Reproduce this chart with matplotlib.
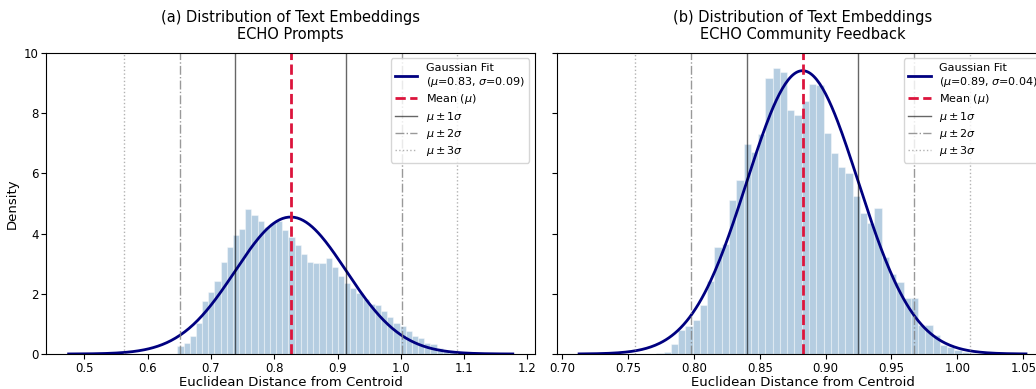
import numpy as np
import matplotlib
matplotlib.use('Agg')
import matplotlib.pyplot as plt

# 왼쪽: ECHO Prompts
mu_a, sigma_a = 0.826, 0.0877
start_a, width_a = 0.6470, 0.00975
dens_a = [0.25, 0.35, 0.61, 1.03, 1.77, 2.05, 2.44, 3.05, 3.57, 3.95,
          4.15, 4.80, 4.63, 4.41, 4.23, 4.35, 4.41, 4.13, 3.90, 3.63,
          3.33, 3.07, 3.01, 3.01, 3.20, 2.88, 2.59, 2.37, 2.18, 2.02,
          1.83, 1.66, 1.63, 1.43, 1.22, 1.02, 0.93, 0.77, 0.60, 0.52,
          0.38, 0.32, 0.20, 0.10, 0.05, 0.03]

# 오른쪽: ECHO Community Feedback
mu_b, sigma_b = 0.8825, 0.0424
start_b, width_b = 0.7715, 0.00552
dens_b = [0.03, 0.07, 0.32, 0.80, 0.93, 1.12, 1.64, 2.42, 3.56, 3.64,
          5.13, 5.77, 6.96, 6.72, 7.30, 9.17, 9.51, 9.38, 8.10, 7.93,
          8.40, 8.96, 8.92, 7.33, 6.68, 6.22, 6.00, 5.24, 4.67, 4.36,
          4.84, 3.23, 2.65, 2.38, 1.86, 1.86, 0.96, 0.96, 0.63, 0.30,
          0.24, 0.13, 0.05, 0.03]

titles = ['(a) Distribution of Text Embeddings\nECHO Prompts',
          '(b) Distribution of Text Embeddings\nECHO Community Feedback']
fit_labels = ['Gaussian Fit\n($\\mu$=0.83, $\\sigma$=0.09)',
              'Gaussian Fit\n($\\mu$=0.89, $\\sigma$=0.04)']
xticks_a = [0.5, 0.6, 0.7, 0.8, 0.9, 1.0, 1.1, 1.2]
xticks_b = [0.70, 0.75, 0.80, 0.85, 0.90, 0.95, 1.00, 1.05]

fig = plt.figure(figsize=(10.36, 3.89), dpi=100)
ax1 = fig.add_axes([0.0448, 0.09, 0.4716, 0.774])
ax2 = fig.add_axes([0.5374, 0.09, 0.4745, 0.774], sharey=ax1)


def draw(ax, mu, sigma, start, width, dens, title, fit_label, xticks):
    edges = start + width * np.arange(len(dens) + 1)
    ax.bar(edges[:-1], dens, width=width, align='edge', color='steelblue',
           alpha=0.4, edgecolor='white', linewidth=0.8)
    x = np.linspace(mu - 4 * sigma, mu + 4 * sigma, 300)
    y = np.exp(-0.5 * ((x - mu) / sigma) ** 2) / (sigma * np.sqrt(2 * np.pi))
    ax.plot(x, y, color='navy', lw=2, label=fit_label)
    ax.axvline(mu, color='crimson', ls='--', lw=2, label='Mean ($\\mu$)')
    styles = [('-', 'black', 0.6), ('-.', 'gray', 0.8), (':', 'gray', 0.6)]
    for k, (ls, c, a) in enumerate(styles, start=1):
        for s in (-1, 1):
            ax.axvline(mu + s * k * sigma, color=c, ls=ls, alpha=a, lw=1,
                       label='$\\mu \\pm %d\\sigma$' % k if s == 1 else None)
    ax.set_title(title, fontsize=10.5, pad=10)
    ax.set_xlabel('Euclidean Distance from Centroid', fontsize=9.5, labelpad=1)
    ax.set_xticks(xticks)
    ax.tick_params(labelsize=8.5, pad=2)
    ax.set_xlim(mu - 4.4 * sigma, mu + 4.4 * sigma)
    ax.legend(loc='upper right', fontsize=8, labelspacing=0.3)


draw(ax1, mu_a, sigma_a, start_a, width_a, dens_a, titles[0], fit_labels[0], xticks_a)
draw(ax2, mu_b, sigma_b, start_b, width_b, dens_b, titles[1], fit_labels[1], xticks_b)
ax1.set_ylim(0, 10)
ax1.set_ylabel('Density', fontsize=9.5)
ax2.tick_params(labelleft=False)
ax2.set_xticklabels(['%.2f' % t for t in xticks_b])

fig.savefig('out.png', dpi=100)
